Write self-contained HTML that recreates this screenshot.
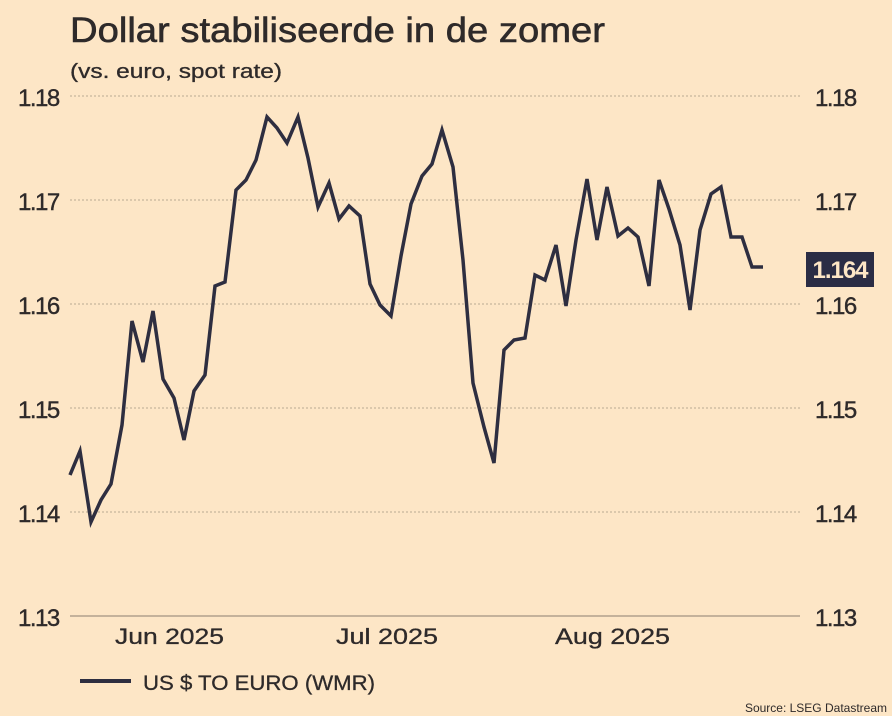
<!DOCTYPE html>
<html><head><style>
body{margin:0;background:#fde6c6;}
svg{display:block;font-family:"Liberation Sans",sans-serif;}
</style></head><body>
<svg width="892" height="716" viewBox="0 0 892 716">
<rect width="892" height="716" fill="#fde6c6"/>
<text x="70" y="42" font-size="35" fill="#2e2a2a" textLength="535" lengthAdjust="spacingAndGlyphs" stroke="#2e2a2a" stroke-width="0.6">Dollar stabiliseerde in de zomer</text>
<text x="70" y="78" font-size="20" fill="#2e2a2a" textLength="212" lengthAdjust="spacingAndGlyphs" stroke="#2e2a2a" stroke-width="0.3">(vs. euro, spot rate)</text>
<g stroke="#b9a993" stroke-width="1" stroke-dasharray="2,2">
<line x1="70" x2="800" y1="96" y2="96"/><line x1="70" x2="800" y1="200" y2="200"/>
<line x1="70" x2="800" y1="304" y2="304"/><line x1="70" x2="800" y1="408" y2="408"/>
<line x1="70" x2="800" y1="512" y2="512"/>
</g>
<line x1="70" x2="800" y1="616" y2="616" stroke="#8a7f70" stroke-width="1"/>
<g font-size="24" fill="#2e2a2a" letter-spacing="-1.5" stroke="#2e2a2a" stroke-width="0.4">
<text x="18" y="106">1.18</text><text x="18" y="210">1.17</text><text x="18" y="314">1.16</text>
<text x="18" y="418">1.15</text><text x="18" y="522">1.14</text><text x="18" y="626">1.13</text>
<text x="815" y="106">1.18</text><text x="815" y="210">1.17</text><text x="815" y="314">1.16</text>
<text x="815" y="418">1.15</text><text x="815" y="522">1.14</text><text x="815" y="626">1.13</text>
</g>
<rect x="806" y="252" width="68" height="35" fill="#2b2d45"/>
<text x="840" y="278" font-size="24" fill="#fde6c6" text-anchor="middle" font-weight="bold" letter-spacing="-1">1.164</text>
<g font-size="22" fill="#2e2a2a" stroke="#2e2a2a" stroke-width="0.3">
<text x="115" y="644" textLength="109" lengthAdjust="spacingAndGlyphs">Jun 2025</text>
<text x="336" y="644" textLength="102" lengthAdjust="spacingAndGlyphs">Jul 2025</text>
<text x="555" y="644" textLength="115" lengthAdjust="spacingAndGlyphs">Aug 2025</text>
</g>
<polyline fill="none" stroke="#2e2e40" stroke-width="3.5" stroke-linejoin="miter" points="70,475 80,451 91,522 101,500 111,484 122,425 132,321 143,362 153,311 163,379 174,398 184,440 194,391 205,375 215,286 225,282 236,190 246,180 256,160 267,117 277,128 287,143 298,117 308,158 318,207 329,183 339,219 349,206 360,216 370,284 380,305 391,316 401,256 411,204 422,176 432,164 442,130 453,167 463,260 473,383 484,427 494,463 504,350 514,340 525,338 535,275 545,280 556,245 566,306 576,240 587,179 597,240 607,187 618,236 628,228 638,237 649,286 659,180 669,209 680,245 690,310 700,230 711,194 721,187 731,237 742,237 752,267 763,267"/>
<line x1="80" x2="131" y1="681" y2="681" stroke="#2e2e40" stroke-width="4"/>
<text x="143" y="690" font-size="21" fill="#2e2a2a" textLength="232" lengthAdjust="spacingAndGlyphs" stroke="#2e2a2a" stroke-width="0.3">US $ TO EURO (WMR)</text>
<text x="887" y="712" font-size="12" fill="#2e2a2a" text-anchor="end">Source: LSEG Datastream</text>
</svg>
</body></html>
